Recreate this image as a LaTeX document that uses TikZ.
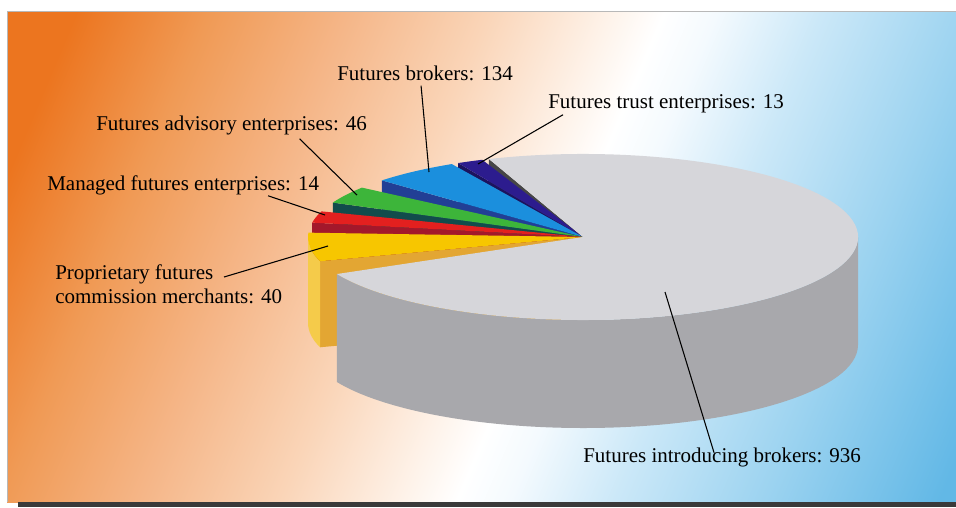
\documentclass[tikz,border=0pt]{standalone}
\usepackage{fontspec}
\setmainfont{Liberation Serif}

\definecolor{bgorange}{HTML}{EC751F}
\definecolor{bgamber}{HTML}{F09A55}
\definecolor{bgpeach}{HTML}{F5B688}
\definecolor{bgcream}{HTML}{FAD5B8}
\definecolor{bgshell}{HTML}{FEF3EA}
\definecolor{bgice}{HTML}{F4FAFE}
\definecolor{bgsky}{HTML}{CBE8F8}
\definecolor{bgazure}{HTML}{9CD3F0}
\definecolor{bgblue}{HTML}{62B8E6}
\definecolor{frameshadow}{HTML}{3A3A3A}
\definecolor{framegray}{HTML}{B8B8B8}

\definecolor{ibtop}{HTML}{D6D6DA}
\definecolor{ibside}{HTML}{A8A8AC}
\definecolor{ibface}{HTML}{464646}
\definecolor{trusttop}{HTML}{2C1C8E}
\definecolor{trustface}{HTML}{1C135E}
\definecolor{brktop}{HTML}{1B8FDD}
\definecolor{brkface}{HTML}{223F95}
\definecolor{advtop}{HTML}{3DB53A}
\definecolor{advface}{HTML}{124C4C}
\definecolor{mngtop}{HTML}{E3201F}
\definecolor{mngface}{HTML}{A3182B}
\definecolor{proptop}{HTML}{F7C600}
\definecolor{propside}{HTML}{F5CB4A}
\definecolor{propface}{HTML}{E3A633}

\pgfdeclarehorizontalshading{bgfade}{100bp}{color(0bp)=(bgorange); color(21bp)=(bgorange); color(28.5bp)=(bgamber); color(36.5bp)=(bgpeach); color(44.5bp)=(bgcream); color(51.5bp)=(bgshell); color(54.5bp)=(white); color(57.5bp)=(bgice); color(63.5bp)=(bgsky); color(72bp)=(bgazure); color(82bp)=(bgblue); color(100bp)=(bgblue)}

\begin{document}
\begin{tikzpicture}[x=0.75pt,y=0.75pt,yscale=-1,xscale=1,
  lbl/.style={inner sep=0.75pt, font=\fontsize{15.75}{18}\selectfont, align=left, text=black},
  leader/.style={draw=black, line width=0.8pt},
  rim/.style={x radius=275, y radius=83}]
\useasboundingbox (0,0) rectangle (956,507);

%Shape: Background panel
\shade[shading=bgfade, shading angle=-23] (7,11) rectangle (956,502);
\draw[framegray, line width=0.6pt] (7,502) -- (7,11) -- (956,11);
\fill[frameshadow] (18,502) rectangle (956,507);

%Shape: Pie (apex at 583,237)
\begin{scope}[shift={(583,237)}, yscale=-1]
\coordinate (apex) at (0,0);
% introducing brokers, face behind the small slices
\fill[ibface] (apex) -- (110:275 and 83) -- ++(0,-108) -- (0,-108) -- cycle;
% trust enterprises
\fill[trustface] (apex) -- (117:275 and 83) -- ++(0,-86) -- (0,-86) -- cycle;
\fill[trusttop] (apex) -- (111.5:275 and 83) arc[rim, start angle=111.5, end angle=117] -- cycle;
% brokers
\fill[brkface] (apex) -- (137:275 and 83) -- ++(0,-86) -- (0,-86) -- cycle;
\fill[brktop] (apex) -- (118.5:275 and 83) arc[rim, start angle=118.5, end angle=137] -- cycle;
% advisory enterprises
\fill[advface] (apex) -- (155.5:275 and 83) -- ++(0,-86) -- (0,-86) -- cycle;
\fill[advtop] (apex) -- (143.5:275 and 83) arc[rim, start angle=143.5, end angle=155.5] -- cycle;
% managed futures enterprises
\fill[mngface] (apex) -- (170:275 and 83) -- ++(0,-86) -- (0,-86) -- cycle;
\fill[mngtop] (apex) -- (162:275 and 83) arc[rim, start angle=162, end angle=170] -- cycle;
% proprietary futures commission merchants
\fill[propface] (apex) -- (197:275 and 83) -- ++(0,-86) -- (0,-86) -- cycle;
\fill[propside] (180:275 and 83) arc[rim, start angle=180, end angle=197] -- ++(0,-86) arc[rim, start angle=197, end angle=180] -- cycle;
\fill[proptop] (apex) -- (177:275 and 83) arc[rim, start angle=177, end angle=197] -- cycle;
% introducing brokers
\fill[ibside] (206.5:275 and 83) arc[rim, start angle=206.5, end angle=360] -- ++(0,-108) arc[rim, start angle=360, end angle=206.5] -- cycle;
\fill[ibtop] (apex) -- (110:275 and 83) arc[rim, start angle=110, end angle=-153.5] -- cycle;
\end{scope}

% leader ends on the slices
\coordinate (brk-end) at (429,172);
\coordinate (trust-end) at (478,164);
\coordinate (adv-end) at (357,195);
\coordinate (mng-end) at (325,215);
\coordinate (prop-end) at (328,246);
\coordinate (ib-end) at (665,292);

% Text Node
\node[lbl, anchor=base west] (brk) at (336,80) {Futures brokers: 134};
% Text Node
\node[lbl, anchor=base west] (trust) at (547,108) {Futures trust enterprises: 13};
% Text Node
\node[lbl, anchor=base west] (adv) at (95,130) {Futures advisory enterprises: 46};
% Text Node
\node[lbl, anchor=base west] (mng) at (46,190) {Managed futures enterprises: 14};
% Text Node
\node[lbl, anchor=north west] (prop) at (54,263) {Proprietary futures\\commission merchants: 40};
% Text Node
\node[lbl, anchor=base west] (ib) at (582,462) {Futures introducing brokers: 936};

\draw[leader] (brk.south) ++(-4,4) -- (brk-end);
\draw[leader] (trust.south west) ++(16,1) -- (trust-end);
\draw[leader] (adv.south) ++(68,3) -- (adv-end);
\draw[leader] (mng.south) ++(85,0) -- (mng-end);
\draw[leader] (prop.north west) ++(170,14) -- (prop-end);
\draw[leader] (ib-end) -- ([xshift=-6pt,yshift=5pt]ib.north);
\end{tikzpicture}
\end{document}
